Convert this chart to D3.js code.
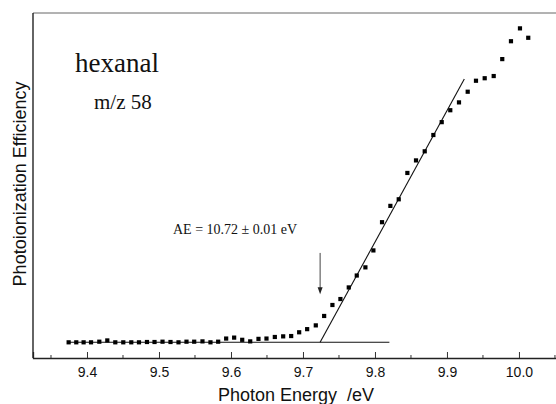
<!DOCTYPE html>
<html>
<head>
<meta charset="utf-8">
<script src="https://cdn.jsdelivr.net/npm/d3@7"></script>
<style>
  body { margin: 0; background: #fff; }
  svg { display: block; }
</style>
</head>
<body>
<script>
// photon energy (eV) of each measured point
const energies = [
  9.3745, 9.3851, 9.3953, 9.4056, 9.4171, 9.4282, 9.4393, 9.4504, 9.4615, 9.4722,
  9.4833, 9.4938, 9.5049, 9.5160, 9.5271, 9.5382, 9.5489, 9.5604, 9.5715, 9.5822,
  9.5933, 9.6044, 9.6156, 9.6267, 9.6382, 9.6493, 9.6609, 9.6725, 9.6836, 9.6947,
  9.7058, 9.7178, 9.7294, 9.7409, 9.7520, 9.7636, 9.7747, 9.7867, 9.7978, 9.8098,
  9.8214, 9.8330, 9.8450, 9.8570, 9.8691, 9.8811, 9.8927, 9.9046, 9.9167, 9.9288,
  9.9403, 9.9524, 9.9649, 9.9768, 9.9889, 10.0014, 10.0129
]
// photoionization efficiency, arbitrary units
const efficiency = [
  0.000, 0.000, 0.000, 0.000, 0.002, 0.006, 0.000, 0.000, 0.000, 0.000,
  0.001, 0.001, 0.002, 0.001, 0.000, 0.002, 0.002, 0.003, 0.000, 0.002,
  0.012, 0.015, 0.008, 0.003, 0.011, 0.012, 0.017, 0.019, 0.020, 0.032,
  0.042, 0.054, 0.084, 0.119, 0.138, 0.175, 0.213, 0.239, 0.293, 0.383,
  0.435, 0.456, 0.540, 0.580, 0.609, 0.661, 0.702, 0.740, 0.765, 0.799,
  0.834, 0.842, 0.849, 0.903, 0.960, 1.001, 0.971
]
const majorTicks = [9.4, 9.5, 9.6, 9.7, 9.8, 9.9, 10.0]
const minorTicks = [9.35, 9.45, 9.55, 9.65, 9.75, 9.85, 9.95, 10.05]

// linear fit of the onset and the background level
const fitLine = [[9.7238, 0], [9.9241, 0.8395]]
const baseLine = [[9.3722, 0], [9.82, 0]]
const onset = 9.7238
const arrowFrom = 0.285, arrowTo = 0.153

const width = 556, height = 404
const plotLeft = 33, plotTop = 13, plotBottom = 358

const svg = d3.select('body').append('svg')
  .attr('width', width)
  .attr('height', height)

const x = d3.scaleLinear().domain([9.325, 10.057]).range([plotLeft, 560])
const y = d3.scaleLinear().domain([-0.05, 1.05]).range([plotBottom, plotTop])

// frame
svg.append('line')
  .attr('x1', plotLeft).attr('x2', width).attr('y1', plotTop).attr('y2', plotTop)
  .attr('stroke', '#666').attr('stroke-width', 1)
svg.append('line')
  .attr('x1', plotLeft).attr('x2', plotLeft).attr('y1', plotTop).attr('y2', plotBottom)
  .attr('stroke', '#111').attr('stroke-width', 1.3)

// x axis with inward ticks
const xAxis = svg.append('g')
  .attr('transform', `translate(0,${plotBottom})`)
  .call(d3.axisBottom(x).tickValues(majorTicks).tickSize(-6).tickFormat(d3.format('.1f')))
xAxis.select('.domain').attr('stroke', '#222').attr('stroke-width', 1.3)
xAxis.selectAll('.tick line').attr('stroke', '#333')
xAxis.selectAll('text')
  .attr('y', 9)
  .attr('font-family', 'Liberation Sans, Arial, sans-serif')
  .attr('font-size', 14)
  .attr('fill', '#111')

svg.append('g')
  .attr('transform', `translate(0,${plotBottom})`)
  .selectAll('line.minor')
  .data(minorTicks)
  .enter()
  .append('line')
  .classed('minor', true)
  .attr('x1', d => x(d)).attr('x2', d => x(d))
  .attr('y1', 0).attr('y2', -3)
  .attr('stroke', '#333')

// axis titles
svg.append('text')
  .attr('x', 296).attr('y', 401)
  .attr('text-anchor', 'middle')
  .attr('font-family', 'Liberation Sans, Arial, sans-serif')
  .attr('font-size', 18)
  .attr('fill', '#111')
  .attr('xml:space', 'preserve')
  .text('Photon Energy  /eV')

svg.append('text')
  .attr('transform', 'translate(25.5,184) rotate(-90)')
  .attr('text-anchor', 'middle')
  .attr('font-family', 'Liberation Sans, Arial, sans-serif')
  .attr('font-size', 18)
  .attr('fill', '#111')
  .text('Photoionization Efficiency')

// fit and background lines
const line = d3.line().x(d => x(d[0])).y(d => y(d[1]))
svg.append('path').datum(baseLine).attr('d', line)
  .attr('fill', 'none').attr('stroke', '#111').attr('stroke-width', 1.1)
svg.append('path').datum(fitLine).attr('d', line)
  .attr('fill', 'none').attr('stroke', '#111').attr('stroke-width', 1.1)

// arrow marking the appearance energy
svg.append('line')
  .attr('x1', x(onset)).attr('x2', x(onset))
  .attr('y1', y(arrowFrom)).attr('y2', y(arrowTo) - 5)
  .attr('stroke', '#444').attr('stroke-width', 1)
svg.append('path')
  .attr('d', `M${x(onset) - 2.5},${y(arrowTo) - 7} L${x(onset) + 2.5},${y(arrowTo) - 7} L${x(onset)},${y(arrowTo)} Z`)
  .attr('fill', '#222')

// data points
const sq = 4.2
svg.selectAll('rect.pt')
  .data(energies.map((e, i) => [e, efficiency[i]]))
  .enter()
  .append('rect')
  .classed('pt', true)
  .attr('x', d => x(d[0]) - sq / 2)
  .attr('y', d => y(d[1]) - sq / 2)
  .attr('width', sq)
  .attr('height', sq)
  .attr('fill', '#000')

// annotations
svg.append('text')
  .attr('x', 75).attr('y', 72)
  .attr('font-family', 'Liberation Serif, Times New Roman, serif')
  .attr('font-size', 27)
  .attr('fill', '#111')
  .text('hexanal')
svg.append('text')
  .attr('x', 94).attr('y', 109)
  .attr('font-family', 'Liberation Serif, Times New Roman, serif')
  .attr('font-size', 21)
  .attr('fill', '#111')
  .text('m/z 58')
svg.append('text')
  .attr('x', 173).attr('y', 234)
  .attr('font-family', 'Liberation Serif, Times New Roman, serif')
  .attr('font-size', 14)
  .attr('fill', '#111')
  .text('AE = 10.72 ± 0.01 eV')
</script>
</body>
</html>
